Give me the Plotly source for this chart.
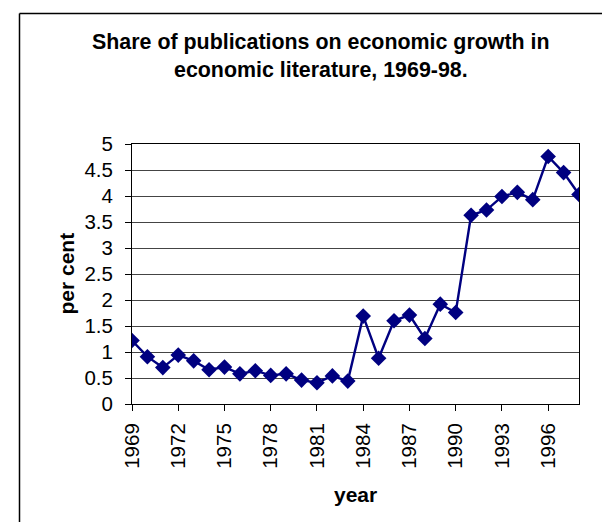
import plotly.graph_objects as go

# ---- data ----
years = list(range(1969, 1999))
share = [1.22, 0.91, 0.70, 0.94, 0.83, 0.66, 0.71, 0.58, 0.64, 0.55,
         0.58, 0.46, 0.41, 0.54, 0.44, 1.69, 0.88, 1.60, 1.71, 1.26,
         1.92, 1.76, 3.63, 3.73, 3.99, 4.07, 3.93, 4.76, 4.45, 4.03]
x_tick_years = [1969, 1972, 1975, 1978, 1981, 1984, 1987, 1990, 1993, 1996]
x_tick_labels = [str(y) for y in x_tick_years]
y_tick_values = [0, 0.5, 1, 1.5, 2, 2.5, 3, 3.5, 4, 4.5, 5]
y_tick_labels = ["0", "0.5", "1", "1.5", "2", "2.5", "3", "3.5", "4", "4.5", "5"]
title_lines = ["Share of publications on economic growth in",
               "economic literature, 1969-98."]
x_title = "year"
y_title = "per cent"

W, H = 610, 522
L, R, T, B = 124, 39, 136, 126
pw, ph = W - L - R, H - T - B


def px_x(px):
    return (px - L) / pw


def px_y(py):
    return (H - B - py) / ph


FONT = "Liberation Sans, Arial, sans-serif"
NAVY = "#000080"

fig = go.Figure()
fig.add_trace(go.Scatter(
    x=years, y=share, mode="lines+markers",
    line=dict(color=NAVY, width=2.4),
    marker=dict(symbol="diamond", size=12, color=NAVY),
    showlegend=False, hoverinfo="x+y",
))

fig.update_layout(
    width=W, height=H,
    margin=dict(l=L, r=R, t=T, b=B, pad=0),
    paper_bgcolor="white", plot_bgcolor="white",
    font=dict(family=FONT, color="black", size=20),
    xaxis=dict(
        range=[1969, 1998], tickmode="array", tickvals=x_tick_years,
        ticktext=x_tick_labels, tickangle=-90, ticks="outside", ticklen=6,
        tickcolor="black", showgrid=False, zeroline=False,
        showline=True, linecolor="black", linewidth=1, mirror=True,
        ticklabelstandoff=4,
        tickfont=dict(family=FONT, size=20.5, color="black"),
    ),
    yaxis=dict(
        range=[0, 5], tickmode="array", tickvals=y_tick_values,
        ticktext=y_tick_labels, ticks="outside", ticklen=6,
        tickcolor="black", showgrid=True, gridcolor="#444444", gridwidth=1,
        zeroline=False, showline=True, linecolor="black", linewidth=1,
        mirror=True, ticklabelstandoff=8,
        tickfont=dict(family=FONT, size=20.5, color="black"),
    ),
    shapes=[
        dict(type="line", xref="paper", yref="paper",
             x0=px_x(11.5), x1=px_x(620), y0=px_y(5.5), y1=px_y(5.5),
             line=dict(color="black", width=1.5)),
        dict(type="line", xref="paper", yref="paper",
             x0=px_x(11.5), x1=px_x(11.5), y0=px_y(5.5), y1=px_y(530),
             line=dict(color="black", width=1.5)),
    ],
    annotations=[
        dict(text="<b>%s</b>" % title_lines[0], xref="paper", yref="paper",
             x=px_x(312.5), y=px_y(33.5), xanchor="center", yanchor="middle",
             showarrow=False, font=dict(family=FONT, size=21.4, color="black")),
        dict(text="<b>%s</b>" % title_lines[1], xref="paper", yref="paper",
             x=px_x(312.5), y=px_y(62), xanchor="center", yanchor="middle",
             showarrow=False, font=dict(family=FONT, size=21.4, color="black")),
        dict(text="<b>%s</b>" % y_title, xref="paper", yref="paper",
             x=px_x(57.5), y=0.5, xanchor="center", yanchor="middle",
             textangle=-90, showarrow=False,
             font=dict(family=FONT, size=21, color="black")),
        dict(text="<b>%s</b>" % x_title, xref="paper", yref="paper",
             x=px_x(347), y=px_y(486), xanchor="center", yanchor="middle",
             showarrow=False, font=dict(family=FONT, size=21, color="black")),
    ],
)

fig.write_html("out.html")
